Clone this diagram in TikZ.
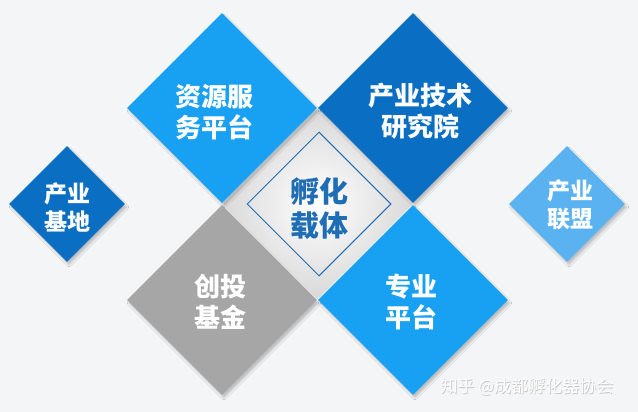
\documentclass[tikz,border=0pt]{standalone}
\usepackage{fontspec}
\newfontfamily\cjk{Noto Sans CJK SC}
\usetikzlibrary{shapes.geometric,shadows.blur}
\definecolor{bg}{HTML}{F4F5F7}
\definecolor{bright}{HTML}{18A0F2}
\definecolor{deep}{HTML}{0A6EC2}
\definecolor{pale}{HTML}{5AB3F0}
\definecolor{stone}{HTML}{A6A6A6}
\definecolor{coretext}{HTML}{1F6DB5}
\tikzset{
  dia/.style={diamond, aspect=1, inner sep=0pt, minimum width=#1, minimum height=#1,
    blur shadow={shadow xshift=2pt, shadow yshift=-3pt, shadow blur steps=10, shadow opacity=22}},
  lbl/.style={text=white, align=center, font=\cjk\bfseries\fontsize{26}{31}\selectfont},
  smalllbl/.style={text=white, align=center, font=\cjk\bfseries\fontsize{23}{28}\selectfont},
}
\begin{document}
\begin{tikzpicture}[x=1pt,y=-1pt]
\fill[bg] (0,0) rectangle (638,412);
\useasboundingbox (0,0) rectangle (638,412);
% core
\node[diamond, aspect=1, inner sep=0pt, minimum width=190pt, minimum height=190pt,
  shading=radial, inner color=white, outer color=gray!30] (core) at (318,204) {};
\node[diamond, aspect=1, inner sep=0pt, minimum width=144pt, minimum height=144pt,
  draw=coretext, line width=1pt] (coreline) at (319,204) {};
% four big diamonds
\node[dia=190pt, fill=bright] (res) at (222,108) {};
\node[dia=190pt, fill=deep] (tech) at (413,108) {};
\node[dia=190pt, fill=stone] (fund) at (222,300) {};
\node[dia=190pt, fill=bright] (plat) at (413,300) {};
% side diamonds
\node[dia=116pt, fill=deep] (base) at (67,204) {};
\node[dia=116pt, fill=pale] (union) at (567,204) {};
% labels
\node[lbl] (tres) at (214,112) {资源服\\务平台};
\node[lbl] (ttech) at (420,111) {产业技术\\研究院};
\node[lbl] (tfund) at (220,302) {创投\\基金};
\node[lbl] (tplat) at (411,302) {专业\\平台};
\node[smalllbl] (tbase) at (68,207) {产业\\基地};
\node[smalllbl] (tunion) at (570,205) {产业\\联盟};
\node[text=coretext, align=center, font=\cjk\bfseries\fontsize{29}{34}\selectfont] (tcore) at (319,209) {孵化\\载体};
% watermark
\node[text=gray!45, font=\cjk\fontsize{17}{17}\selectfont] (wms) at (527.7,387.7) {知乎 @成都孵化器协会};
\node[text=white, font=\cjk\fontsize{17}{17}\selectfont] (wm) at (527,387) {知乎 @成都孵化器协会};
\end{tikzpicture}
\end{document}
